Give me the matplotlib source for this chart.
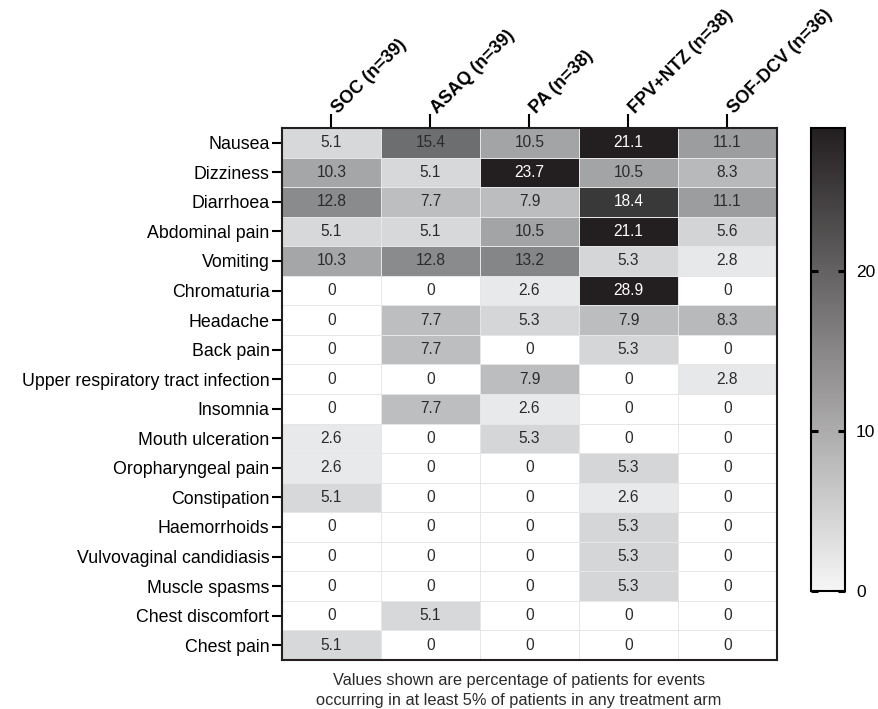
import numpy as np
import matplotlib
matplotlib.use("Agg")
from matplotlib import pyplot as plt
from matplotlib.colors import LinearSegmentedColormap, Normalize
from matplotlib.cm import ScalarMappable
from matplotlib.transforms import ScaledTranslation

plt.rcParams['font.family'] = ['Liberation Sans', 'DejaVu Sans']

arms = ["SOC (n=39)", "ASAQ (n=39)", "PA (n=38)", "FPV+NTZ (n=38)", "SOF-DCV (n=36)"]
events = ["Nausea", "Dizziness", "Diarrhoea", "Abdominal pain", "Vomiting",
          "Chromaturia", "Headache", "Back pain", "Upper respiratory tract infection",
          "Insomnia", "Mouth ulceration", "Oropharyngeal pain", "Constipation",
          "Haemorrhoids", "Vulvovaginal candidiasis", "Muscle spasms",
          "Chest discomfort", "Chest pain"]

soc     = [5.1, 10.3, 12.8, 5.1, 10.3, 0, 0, 0, 0, 0, 2.6, 2.6, 5.1, 0, 0, 0, 0, 5.1]
asaq    = [15.4, 5.1, 7.7, 5.1, 12.8, 0, 7.7, 7.7, 0, 7.7, 0, 0, 0, 0, 0, 0, 5.1, 0]
pa      = [10.5, 23.7, 7.9, 10.5, 13.2, 2.6, 5.3, 0, 7.9, 2.6, 5.3, 0, 0, 0, 0, 0, 0, 0]
fpv_ntz = [21.1, 10.5, 18.4, 21.1, 5.3, 28.9, 7.9, 5.3, 0, 0, 0, 5.3, 2.6, 5.3, 5.3, 5.3, 0, 0]
sof_dcv = [11.1, 8.3, 11.1, 5.6, 2.8, 0, 8.3, 0, 2.8, 0, 0, 0, 0, 0, 0, 0, 0, 0]

data = np.array([soc, asaq, pa, fpv_ntz, sof_dcv]).T

# grey ramp used for the cells (saturates to near-black above ~21)
cell_stops = [(0.0, "#ffffff"), (2.6, "#e8e9ea"), (5.1, "#d7d8da"), (7.7, "#bdbec0"),
              (10.3, "#a5a6a8"), (12.8, "#8a8b8d"), (15.4, "#6d6e70"),
              (18.4, "#3a3a3b"), (21.1, "#231f20")]
cell_max = cell_stops[-1][0]
cell_cmap = LinearSegmentedColormap.from_list(
    "cells", [(v / cell_max, c) for v, c in cell_stops])
bar_cmap = LinearSegmentedColormap.from_list("bar", ["#f6f6f6", "#231f20"])

fig = plt.figure(figsize=(8.79, 7.09), dpi=100)
ax = fig.add_axes([0.3208, 0.0691, 0.5631, 0.7504])

nrow, ncol = data.shape
ax.pcolormesh(np.arange(ncol + 1), np.arange(nrow + 1), data,
              cmap=cell_cmap, norm=Normalize(0, cell_max),
              edgecolors="#e6e6e6", linewidth=0.7)
ax.set_xlim(0, ncol)
ax.set_ylim(nrow, 0)

for i in range(nrow):
    for j in range(ncol):
        v = data[i, j]
        txt = "0" if v == 0 else f"{v:.1f}"
        col = "white" if v >= 18 else "#2b2b2b"
        ax.text(j + 0.5, i + 0.5, txt, ha="center", va="center",
                fontsize=11.2, color=col)

ax.xaxis.tick_top()
ax.set_xticks(np.arange(ncol) + 0.5)
ax.tick_params(axis="x", length=10, width=1.5, labeltop=False)

# slanted column headers, starting just above each tick
head_tr = ax.get_xaxis_transform() + ScaledTranslation(0.07, 0.14, fig.dpi_scale_trans)
for j, name in enumerate(arms):
    ax.text(j + 0.5, 1.0, name, transform=head_tr, rotation=45,
            rotation_mode="anchor", ha="left", va="baseline",
            fontsize=13, fontweight="bold")

ax.set_yticks(np.arange(nrow) + 0.5)
ax.set_yticklabels(events, fontsize=12.8)
ax.tick_params(axis="y", length=7, width=1.5, pad=2)
for s in ax.spines.values():
    s.set_linewidth(1.5)
    s.set_color("#231f20")

cax = fig.add_axes([0.9226, 0.1664, 0.0387, 0.653])
cb = fig.colorbar(ScalarMappable(norm=Normalize(0, 28.9), cmap=bar_cmap), cax=cax)
cb.set_ticks([0, 10, 20])
cb.outline.set_linewidth(1.5)
cax.tick_params(direction="in", length=5, width=2.2, left=True, right=True,
                labelsize=12.5, pad=8)

fig.text(0.5905, 0.0395, "Values shown are percentage of patients for events",
         ha="center", va="center", fontsize=11.8, color="#2b2b2b")
fig.text(0.5905, 0.0113, "occurring in at least 5% of patients in any treatment arm",
         ha="center", va="center", fontsize=11.8, color="#2b2b2b")

fig.savefig("out.png", dpi=100)
